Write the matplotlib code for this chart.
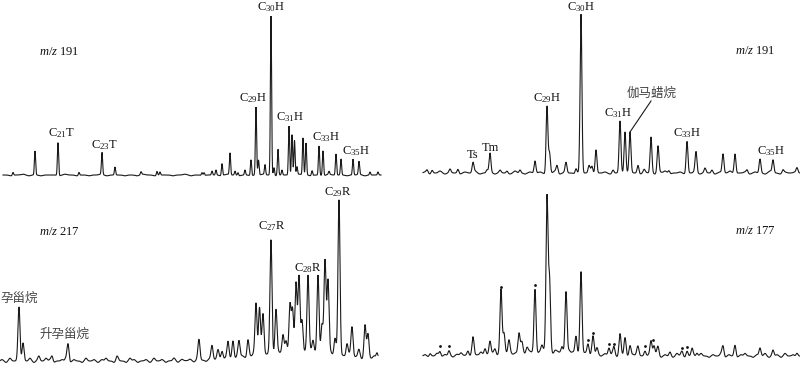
import numpy as np
import matplotlib
matplotlib.use("Agg")
import matplotlib.pyplot as plt

plt.rcParams['mathtext.fontset'] = 'custom'
plt.rcParams['mathtext.rm'] = 'Liberation Serif'
plt.rcParams['mathtext.it'] = 'Liberation Serif:italic'

# ---------------- data (retention position, peak height) ----------------
# top-left: m/z 191
TL_POS = [13, 35, 58, 79, 102, 115, 141, 157, 160, 202, 204, 212, 216, 222, 230, 235, 238, 245,
          251, 256, 258.5, 265, 271, 274, 278, 282, 289, 292, 294.5, 297, 303, 306, 312, 319, 323,
          329, 336, 341, 353, 359, 370, 378]
TL_HT = [3, 24, 33, 3, 22, 8, 3, 4, 3, 3, 3, 4, 5, 12, 22, 4, 3, 5,
         16, 68, 15, 10, 159, 8, 26, 5, 49, 41, 35, 8, 37, 32, 5, 29, 25,
         3, 21, 16, 16, 13, 3, 3]
TL_NOISE = [1, 0, 1, 2, 0, 1, 0, 1, 1, 0, 2, 1, 0, 1, 0, 1, 2, 0, 1, 1, 0, 1, 0, 2, 1, 0, 1, 1, 0, 1,
            2, 0, 1, 0, 1, 1, 0, 2, 1, 0, 1, 0, 1, 2, 1, 0, 1, 1, 0, 2, 1, 0, 1, 0, 2, 1, 1, 0, 1, 2,
            0, 1, 1]
TL_LABELS = ["C$_{21}$T", "C$_{23}$T", "C$_{29}$H", "C$_{30}$H", "C$_{31}$H", "C$_{33}$H", "C$_{35}$H"]
TL_LAB_X = [61, 104, 253, 271, 290, 326, 356]
TL_LAB_Y = [42, 30, 77, 168, 58, 38, 24]

# top-right: m/z 191
TR_POS = [427, 432, 450, 458, 473, 487, 490, 500, 507, 520, 535, 547, 549.5, 557, 566, 576, 581,
          589, 592, 596, 613, 620, 625, 630, 638, 644, 651, 658, 669, 687, 696, 705, 712, 723, 735,
          747, 760, 773, 783, 797]
TR_HT = [3, 3, 3, 4, 10, 3, 19, 2, 2, 3, 12, 67, 20, 7, 10, 5, 158,
         6, 6, 24, 3, 51, 42, 39, 8, 3, 36, 27, 3, 32, 20, 4, 3, 19, 20,
         3, 14, 13, 3, 5]
TR_NOISE = [2, 0, 1, 3, 0, 2, 1, 0, 2, 1, 3, 0, 1, 2, 0, 2, 1, 0, 3, 1, 0, 2, 1, 2, 0, 1, 3, 0, 2, 1,
            0, 2, 1, 3, 0, 1, 2, 0, 1, 2, 0, 3, 1, 0, 2, 1, 0, 2, 3, 0, 1, 2, 0, 1, 3, 0, 2, 1, 0, 2,
            1, 3, 0, 1, 2, 0, 2, 1, 0, 3, 1, 0, 2, 1, 2]
TR_LABELS = ["Ts", "Tm", "C$_{29}$H", "C$_{30}$H", "C$_{31}$H", "C$_{33}$H", "C$_{35}$H"]
TR_LAB_X = [473, 490, 547, 581, 618, 687, 771]
TR_LAB_Y = [18, 25, 75, 166, 60, 40, 22]

# bottom-left: m/z 217
BL_POS = [19, 23, 39, 52, 68, 117, 199, 212, 218, 222, 228, 233, 239, 248, 256, 259.5, 263, 271,
          276, 283, 286, 290, 292.5, 296, 299, 302, 308, 313, 318, 322, 325, 328, 335, 339, 347,
          352, 359, 365, 368, 377]
BL_HT = [53, 19, 4, 5, 17, 4, 19, 14, 7, 9, 17, 18, 15, 17, 52, 48, 40, 112,
         44, 18, 13, 45, 42, 69, 76, 33, 76, 12, 79, 27, 93, 73, 17, 154, 13,
         29, 7, 32, 24, 6]
BL_NOISE = [2, 0, 3, 1, 2, 0, 1, 3, 0, 2, 1, 3, 2, 0, 1, 2, 3, 0, 2, 1, 0, 3, 1, 2, 0, 2, 3, 1, 0, 2,
            1, 0, 3, 2, 0, 1, 2, 0, 3, 1, 2, 0, 1, 3, 0, 2, 1, 2, 0, 3, 1, 0, 2, 1, 3, 0, 2, 1, 0, 3,
            2, 0, 1, 3, 0, 2, 1, 3, 0, 2, 1, 0, 3, 2, 1, 0, 2, 3, 1, 0, 2, 1, 3, 0, 2, 1, 0, 3, 1, 2,
            0, 2, 1, 3]
BL_HUMP = [300, 9, 45]  # centre, height, width
BL_LABELS = ["C$_{27}$R", "C$_{28}$R", "C$_{29}$R"]
BL_LAB_X = [272, 308, 338]
BL_LAB_Y = [135, 93, 169]

# bottom-right: m/z 177
BR_POS = [430, 440, 449, 468, 473, 485, 490, 495, 501, 504, 509, 519, 522, 527, 535, 542, 547,
          549.5, 555, 562, 566, 576, 581, 588, 593, 597, 609, 614, 620, 625, 630, 638, 645, 651,
          654, 658, 670, 682, 687, 692, 697, 723, 735, 760, 773, 797]
BR_HT = [3, 5, 5, 5, 17, 7, 13, 5, 62, 20, 12, 19, 9, 5, 63, 6, 154,
         72, 2, 6, 62, 18, 82, 11, 16, 7, 7, 7, 21, 18, 11, 8, 6, 15,
         10, 8, 4, 4, 5, 7, 4, 10, 11, 8, 6, 4]
BR_NOISE = [2, 0, 1, 3, 0, 2, 1, 0, 2, 3, 1, 0, 2, 1, 3, 0, 1, 2, 0, 3, 1, 2, 0, 1, 3, 0, 2, 1, 0, 2,
            3, 1, 0, 2, 1, 0, 3, 2, 0, 1, 2, 0, 3, 1, 0, 2, 1, 3, 0, 2, 1, 0, 2, 3, 1, 0, 2, 1, 3, 0,
            2, 1, 0, 3, 2, 0, 1, 2, 0, 3, 1, 0, 2, 1, 3, 0, 2, 1, 0, 2, 3, 1, 0, 2, 1, 3, 0, 1, 2, 0,
            3, 1, 2, 0]
BR_HUMP = [540, 4, 40]
BR_DOT_X = [440, 449, 501, 535, 588, 593, 609, 614, 645, 653, 682, 687]
BR_DOT_Y = [10, 10, 69, 71, 16, 23, 12, 12, 10, 16, 8, 9]

# ---------------- drawing ----------------
W, H = 800, 367
fig = plt.figure(figsize=(8.0, 3.67), dpi=100)
fig.patch.set_facecolor('white')

LINE = '#1a1a1a'
SERIF = ['Liberation Serif', 'DejaVu Serif']
CJK = ['Noto Sans CJK SC', 'DejaVu Sans']


def make_ax(px0, px1, py0, py1, base):
    ax = fig.add_axes([px0 / W, 1 - py1 / H, (px1 - px0) / W, (py1 - py0) / H])
    ax.set_xlim(px0, px1)
    ax.set_ylim(base - py1, base - py0)
    ax.axis('off')
    return ax


def draw_trace(ax, x0, x1, pos, ht, sigma, noise, nstep, nscale, hump=None):
    x = np.linspace(x0, x1, 6000)
    y = np.zeros_like(x)
    for p, h in zip(pos, ht):
        y += h * np.exp(-0.5 * ((x - p) / sigma) ** 2)
    nx = x0 + 2 + nstep * np.arange(len(noise))
    for p, h in zip(nx, noise):
        y += nscale * (h - 1) * np.exp(-0.5 * ((x - p) / (nstep * 0.3)) ** 2)
    if hump is not None:
        c, h, w = hump
        y += h * np.exp(-0.5 * ((x - c) / w) ** 2)
    ax.plot(x, y, color=LINE, lw=0.8, solid_joinstyle='miter')


def labels(ax, texts, xs, ys):
    for t, x, y in zip(texts, xs, ys):
        ax.text(x, y, t, ha='center', va='center', fontsize=9, family=SERIF,
                color='#111111', clip_on=False)


# top-left
ax1 = make_ax(0, 400, 0, 183, 175)
draw_trace(ax1, 3, 381, TL_POS, TL_HT, 0.6, TL_NOISE, 6, 0.8)
labels(ax1, TL_LABELS, TL_LAB_X, TL_LAB_Y)
ax1.text(39, 123, r"$\mathit{m/z}$ 191", ha='left', va='center', fontsize=9, family=SERIF, color='#111111')

# top-right
ax2 = make_ax(400, 800, 0, 183, 173)
draw_trace(ax2, 423, 800, TR_POS, TR_HT, 0.9, TR_NOISE, 5, 1.0)
labels(ax2, TR_LABELS, TR_LAB_X, TR_LAB_Y)
ax2.text(735, 122, r"$\mathit{m/z}$ 191", ha='left', va='center', fontsize=9, family=SERIF, color='#111111')
ax2.text(652, 80, "伽马蜡烷", ha='center', va='center', fontsize=9, family=CJK, color='#444444')
ax2.plot([651, 630], [72, 41], color=LINE, lw=0.8)

# bottom-left
ax3 = make_ax(0, 400, 183, 367, 361)
draw_trace(ax3, 0, 378, BL_POS, BL_HT, 1.0, BL_NOISE, 4, 1.4, BL_HUMP)
labels(ax3, BL_LABELS, BL_LAB_X, BL_LAB_Y)
ax3.text(39, 129, r"$\mathit{m/z}$ 217", ha='left', va='center', fontsize=9, family=SERIF, color='#111111')
ax3.text(0, 63, "孕甾烷", ha='left', va='center', fontsize=9, family=CJK, color='#444444')
ax3.text(40, 27, "升孕甾烷", ha='left', va='center', fontsize=9, family=CJK, color='#444444')

# bottom-right
ax4 = make_ax(400, 800, 183, 367, 356)
draw_trace(ax4, 423, 800, BR_POS, BR_HT, 1.0, BR_NOISE, 4, 1.3, BR_HUMP)
ax4.scatter(BR_DOT_X, BR_DOT_Y, s=4, color='#111111', zorder=3, linewidths=0)
ax4.text(735, 125, r"$\mathit{m/z}$ 177", ha='left', va='center', fontsize=9, family=SERIF, color='#111111')

fig.savefig("out.png", dpi=100, facecolor='white')
